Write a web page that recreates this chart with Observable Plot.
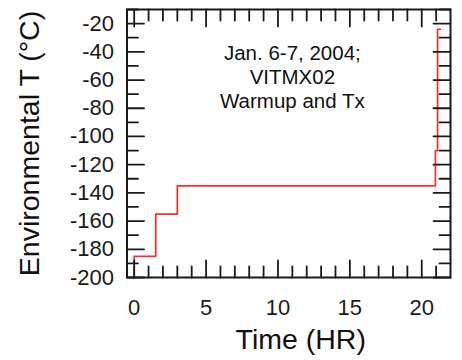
<!DOCTYPE html>
<html><head><meta charset="utf-8">
<script src="https://cdn.jsdelivr.net/npm/d3@7"></script>
<script src="https://cdn.jsdelivr.net/npm/@observablehq/plot@0.6"></script>
<style>body{margin:0;background:#fff;} svg{display:block;}</style>
</head><body><div id="chart"></div>
<script>
// Step series (hours, °C)
const timeHr = [0, 0, 1.5, 3, 20.95, 21.1, 21.3];
const tempC  = [-200, -185, -155, -135, -110, -24, -24];

const xTickLabels = [0, 5, 10, 15, 20];
const xMinorTicks = d3.range(0, 22, 1);
const yTickLabels = d3.range(-200, -19, 20);
const yMinorTicks = d3.range(-200, -9, 10);

const annotation = ["Jan. 6-7, 2004;\nVITMX02\nWarmup and Tx"];
const xLabel = ["Time (HR)"];
const yLabel = ["Environmental T (°C)"];

const series = timeHr.map((t, i) => ({t, v: tempC[i]}));

const line = {draw(ctx, l) { ctx.moveTo(0, 0); ctx.lineTo(0, -l); }};
const ink = "#1a1a1a";
const tickLen = (major) => (d) => major.includes(d) ? 17 : 11;

const chart = Plot.plot({
  width: 462,
  height: 360,
  marginLeft: 126.5,
  marginRight: 12,
  marginTop: 9,
  marginBottom: 83,
  style: {fontFamily: "'Liberation Sans', Arial, sans-serif", fontSize: "22px", color: ink, background: "#fff"},
  x: {domain: [-0.5, 22], axis: null},
  y: {domain: [-200, -10], axis: null},
  length: {type: "identity"},
  marks: [
    Plot.line(series, {x: "t", y: "v", curve: "step-after", stroke: "#f03030", strokeWidth: 1.7}),
    // inward ticks on all four sides
    Plot.vector(yMinorTicks, {y: d => d, frameAnchor: "left", rotate: 90, anchor: "start", shape: line, length: tickLen(yTickLabels), stroke: ink, strokeWidth: 1.8}),
    Plot.vector(yMinorTicks, {y: d => d, frameAnchor: "right", rotate: -90, anchor: "start", shape: line, length: tickLen(yTickLabels), stroke: ink, strokeWidth: 1.8}),
    Plot.vector(xMinorTicks, {x: d => d, frameAnchor: "bottom", rotate: 0, anchor: "start", shape: line, length: tickLen(xTickLabels), stroke: ink, strokeWidth: 1.8}),
    Plot.vector(xMinorTicks, {x: d => d, frameAnchor: "top", rotate: 180, anchor: "start", shape: line, length: tickLen(xTickLabels), stroke: ink, strokeWidth: 1.8}),
    Plot.frame({stroke: ink, strokeWidth: 2}),
    Plot.axisX({ticks: xTickLabels, tickSize: 0, tickPadding: 22, fontSize: 22, anchor: "bottom", label: null, tickFormat: d => `${d}`}),
    Plot.axisY({ticks: yTickLabels, tickSize: 0, tickPadding: 13, fontSize: 22, anchor: "left", label: null, tickFormat: d => `${d}`}),
    Plot.text(annotation, {x: () => 11, y: () => -34, text: d => d, lineAnchor: "top", lineHeight: 1.17, fontSize: 20.5, fill: "#111"}),
    Plot.text(xLabel, {frameAnchor: "bottom", text: d => d, dx: 12, dy: 62, lineAnchor: "middle", textAnchor: "middle", fontSize: 28.5, fill: "#111"}),
    Plot.text(yLabel, {frameAnchor: "left", text: d => d, rotate: -90, dx: -97, lineAnchor: "middle", textAnchor: "middle", fontSize: 28.5, fill: "#111"})
  ]
});
document.getElementById("chart").appendChild(chart);
</script>
</body></html>
